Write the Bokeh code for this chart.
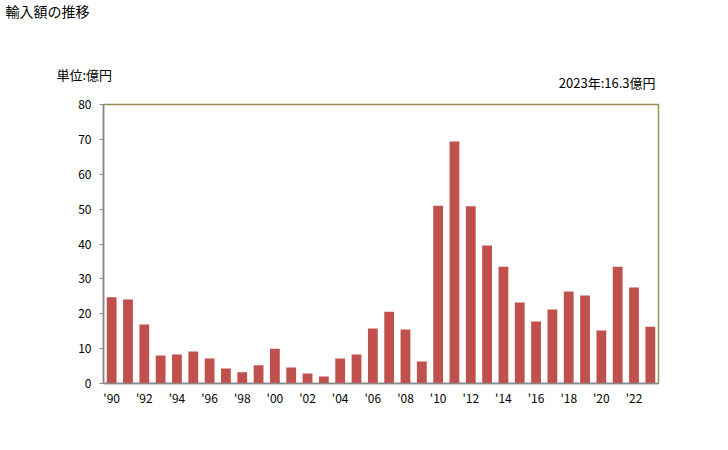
from bokeh.plotting import figure
from bokeh.models import Range1d, FixedTicker, Label, ColumnDataSource
from bokeh.embed import file_html
from bokeh.resources import INLINE

years = list(range(1990, 2024))
values = [24.7, 24.1, 16.9, 8.0, 8.3, 9.2, 7.2, 4.3, 3.2, 5.2,
          10.0, 4.6, 2.9, 2.0, 7.2, 8.3, 15.8, 20.6, 15.5, 6.3,
          51.0, 69.4, 50.8, 39.6, 33.5, 23.2, 17.8, 21.2, 26.4, 25.2,
          15.2, 33.5, 27.5, 16.3]
tick_years = list(range(1990, 2024, 2))
tick_labels = ["'" + str(y)[2:] for y in tick_years]
y_ticks = [0, 10, 20, 30, 40, 50, 60, 70, 80]

title_text = "輸入額の推移"
unit_text = "単位:億円"
latest_text = "2023年:16.3億円"

FONT = "Noto Sans CJK JP"

idx = list(range(len(years)))
src = ColumnDataSource(dict(x=idx, top=values))

p = figure(frame_width=555, frame_height=279,
           min_border_left=103, min_border_right=62,
           min_border_top=104, min_border_bottom=59,
           x_range=Range1d(-0.5, len(years) - 0.5), y_range=Range1d(0, 80),
           output_backend="svg", toolbar_location=None, tools="")

p.vbar(x="x", top="top", width=0.6, source=src, color="#c0504d", line_color=None)

p.xgrid.visible = False
p.ygrid.visible = False
p.outline_line_color = "#9a9052"
p.outline_line_width = 1.5
p.background_fill_color = "white"
p.border_fill_color = "white"

xa = p.xaxis[0]
xa.ticker = FixedTicker(ticks=[years.index(y) for y in tick_years])
xa.major_label_overrides = {years.index(y): lab for y, lab in zip(tick_years, tick_labels)}
xa.major_tick_out = 0
xa.major_tick_in = 0
xa.minor_tick_out = 0
xa.minor_tick_in = 0
xa.axis_line_color = "#888888"
xa.axis_line_width = 1.5
xa.major_label_standoff = 5
xa.major_label_text_font = FONT
xa.major_label_text_font_size = "12px"
xa.major_label_text_color = "black"

ya = p.yaxis[0]
ya.ticker = FixedTicker(ticks=y_ticks)
ya.major_tick_out = 4
ya.major_tick_in = 0
ya.minor_tick_out = 0
ya.minor_tick_in = 0
ya.major_tick_line_color = "#888888"
ya.axis_line_color = "#888888"
ya.axis_line_width = 1.5
ya.major_label_standoff = 8
ya.major_label_text_font = FONT
ya.major_label_text_font_size = "12px"
ya.major_label_text_color = "black"

# texts placed in the panel above the frame (screen offsets within that panel)
p.add_layout(Label(x=-98, y=94, x_units="screen", y_units="screen", text=title_text,
                   text_font=FONT, text_font_size="14px", text_baseline="middle",
                   text_align="left", text_color="black"), "above")
p.add_layout(Label(x=-47, y=10, x_units="screen", y_units="screen", text=unit_text,
                   text_font=FONT, text_font_size="13px", text_baseline="middle",
                   text_align="left", text_color="black"), "above")
p.add_layout(Label(x=552, y=-17, x_units="screen", y_units="screen", text=latest_text,
                   text_font=FONT, text_font_size="13px", text_baseline="middle",
                   text_align="right", text_color="black"), "above")

open("out.html", "w").write(file_html(p, INLINE))
